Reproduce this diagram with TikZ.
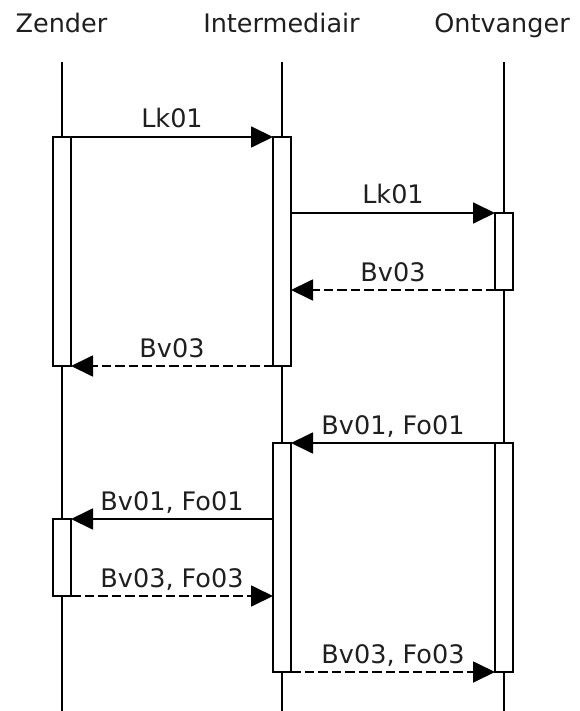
\documentclass[tikz,border=0pt]{standalone}
\usepackage{fontspec}
\setmainfont{DejaVu Sans}
\usetikzlibrary{arrows.meta}
\begin{document}
\begin{tikzpicture}[x=1pt,y=-1pt,
  every node/.style={font=\fontsize{25.5}{30}\selectfont, text=black!88},
  lifeline/.style={line width=1.8pt},
  actbox/.style={draw, fill=white, line width=1.8pt, minimum width=18pt, inner sep=0pt, outer sep=0pt, rectangle},
  msg/.style={line width=1.8pt, -{Triangle[length=22pt,width=21pt]}},
  reply/.style={msg, dash pattern=on 9.5pt off 4pt},
  lbl/.style={midway, anchor=base, yshift=9pt, inner sep=0pt}
]
\useasboundingbox (0,0) rectangle (579,711);
% headers
\node[anchor=base] (hz) at (61.5,33) {Zender};
\node[anchor=base] (hi) at (281.5,33) {Intermediair};
\node[anchor=base] (ho) at (502,33) {Ontvanger};
% lifelines
\coordinate (zt) at (62,62);  \coordinate (zb) at (62,711);
\coordinate (it) at (282,62);   \coordinate (ib) at (282,711);
\coordinate (ot) at (504,62);   \coordinate (ob) at (504,711);
\draw[lifeline] (zt) -- (zb);
\draw[lifeline] (it) -- (ib);
\draw[lifeline] (ot) -- (ob);
% activation boxes
\node[actbox, minimum height=229pt] (Z1) at (62,251.5) {};
\node[actbox, minimum height=229pt] (I1) at (282,251.5) {};
\node[actbox, minimum height=77pt]  (O1) at (504,251.5) {};
\node[actbox, minimum height=229pt] (I2) at (282,557.5) {};
\node[actbox, minimum height=229pt] (O2) at (504,557.5) {};
\node[actbox, minimum height=77pt]  (Z2) at (62,557.5) {};
% messages
\draw[msg] (Z1.north east) -- node[lbl] {Lk01} (I1.north west);
\draw[msg] (O1.north west -| I1.east) -- node[lbl] {Lk01} (O1.north west);
\draw[reply] (O1.south west) -- node[lbl] {Bv03} (O1.south west -| I1.east);
\draw[reply] (I1.south west) -- node[lbl] {Bv03} (Z1.south east);
\draw[msg] (O2.north west) -- node[lbl] {Bv01, Fo01} (I2.north east);
\draw[msg] (Z2.north east -| I2.west) -- node[lbl] {Bv01, Fo01} (Z2.north east);
\draw[reply] (Z2.south east) -- node[lbl] {Bv03, Fo03} (Z2.south east -| I2.west);
\draw[reply] (I2.south east) -- node[lbl] {Bv03, Fo03} (O2.south west);
\end{tikzpicture}
\end{document}
